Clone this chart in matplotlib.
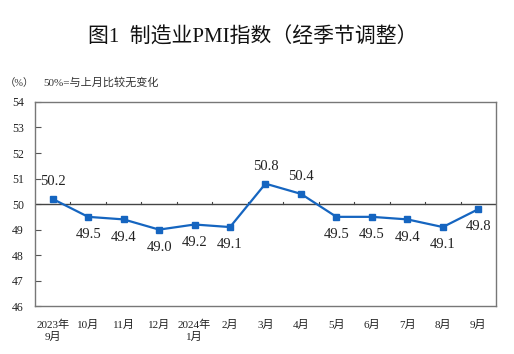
import matplotlib
matplotlib.use("Agg")
import matplotlib.pyplot as plt

months = ["2023年\n9月", "10月", "11月", "12月", "2024年\n1月", "2月", "3月", "4月",
          "5月", "6月", "7月", "8月", "9月"]
pmi = [50.2, 49.5, 49.4, 49.0, 49.2, 49.1, 50.8, 50.4, 49.5, 49.5, 49.4, 49.1, 49.8]
label_pos = ["above", "below", "below", "below", "below", "below", "above", "above",
             "below", "below", "below", "below", "below"]
yticks = [46, 47, 48, 49, 50, 51, 52, 53, 54]

FAM = ["Liberation Serif", "Noto Sans CJK SC"]
plt.rcParams["font.family"] = FAM

fig = plt.figure(figsize=(5.14, 3.54), dpi=100)
ax = fig.add_axes([0.068, 0.135, 0.897, 0.577])

x = list(range(len(pmi)))
blue = "#1565c0"
ax.plot(x, pmi, color=blue, lw=1.6, marker="s", ms=4.5, zorder=3)

for xi, v, p in zip(x, pmi, label_pos):
    if p == "above":
        ax.annotate(f"{v:.1f}", (xi, v), xytext=(0, 8), textcoords="offset points",
                    ha="center", va="bottom", fontsize=10.5, color="#222222")
    else:
        ax.annotate(f"{v:.1f}", (xi, v), xytext=(0, -8), textcoords="offset points",
                    ha="center", va="top", fontsize=10.5, color="#222222")

ax.set_xlim(-0.5, len(pmi) - 0.5)
ax.set_ylim(46, 54)
ax.set_yticks(yticks)
ax.set_yticklabels([str(t) for t in yticks], fontsize=8.5, color="#222222")
ax.tick_params(axis="y", direction="in", length=4, color="#555555", pad=8)

# horizontal line at 50 with upward ticks at category boundaries
ax.axhline(50, color="#444444", lw=1.0, zorder=2)
for b in range(1, len(pmi)):
    ax.plot([b - 0.5, b - 0.5], [50, 50.09], color="#444444", lw=0.8, zorder=2)

ax.set_xticks(x)
ax.set_xticklabels(months, fontsize=8, color="#222222")
ax.tick_params(axis="x", length=0, pad=10)

for s in ax.spines.values():
    s.set_color("#777777")
    s.set_linewidth(1.0)

fig.text(0.491, 0.895, "图1  制造业PMI指数（经季节调整）", ha="center", va="center",
         fontsize=15, color="#111111")
fig.text(0.010, 0.766, "（%）", ha="left", va="center", fontsize=7.5, color="#333333")
fig.text(0.084, 0.766, "50%=与上月比较无变化", ha="left", va="center", fontsize=8, color="#333333")

fig.savefig("out.png", dpi=100)
